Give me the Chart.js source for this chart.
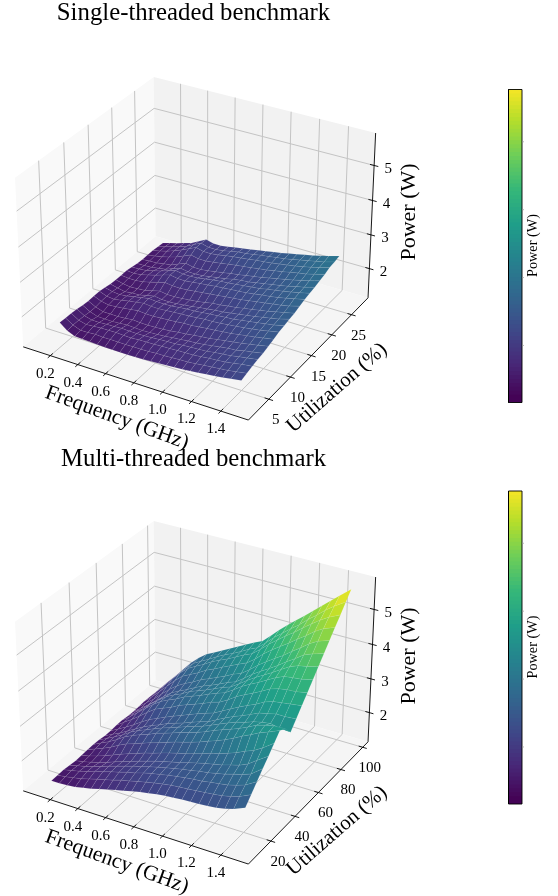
<!DOCTYPE html>
<html>
<head>
<meta charset="utf-8">
<title>Power surfaces</title>
<script src="https://cdn.jsdelivr.net/npm/chart.js@4"></script>
<style>
  html, body { margin: 0; padding: 0; background: #fff; }
  canvas { display: block; }
</style>
</head>
<body>
<canvas id="stage" width="558" height="896"></canvas>
<script>
// --- dados ---
const frequencies = [0.10,0.16,0.22,0.28,0.34,0.40,0.46,0.52,0.58,0.64,0.70,0.76,0.82,0.88,0.94,1.00,1.06,1.12,1.18,1.24,1.30,1.36,1.42,1.50];
const utilDrift = [1.7,1.55,1.4,1.25,1.1,0.95,0.8,0.65,0.5,0.35,0.2,0.05,-0.1,-0.25,-0.4,-0.55,-0.7,-0.85,-1,-1.15,-1.3,-1.45,-1.6,-1.9];
const utilSingle = [3.5,4.7,5.9,7.1,8.3,9.5,10.7,11.9,13.1,14.3,15.5,16.7,17.9,19.1,20.3,21.5,22.7,23.9,25.1,26.3];
const utilMulti = [11,15.5,20,24.5,29,33.5,38,42.5,47,51.5,56,60.5,65,69.5,74,78.5,83,87.5,92,96.5];

const powerSingle = [
  [1.39,1.24,1.17,1.18,1.20,1.21,1.23,1.25,1.27,1.30,1.33,1.36,1.40,1.44,1.48,1.52,1.56,1.61,1.66,1.71,1.76,1.82,1.88,1.98],
  [1.38,1.26,1.20,1.23,1.27,1.28,1.31,1.33,1.35,1.38,1.41,1.44,1.48,1.51,1.55,1.59,1.62,1.67,1.72,1.77,1.82,1.87,1.93,2.03],
  [1.38,1.26,1.23,1.27,1.31,1.34,1.37,1.38,1.40,1.44,1.47,1.50,1.54,1.57,1.61,1.64,1.67,1.72,1.77,1.81,1.86,1.92,1.99,2.08],
  [1.36,1.25,1.22,1.24,1.28,1.31,1.35,1.36,1.38,1.41,1.45,1.49,1.53,1.56,1.61,1.65,1.69,1.73,1.79,1.84,1.89,1.96,2.02,2.12],
  [1.33,1.23,1.18,1.20,1.22,1.26,1.30,1.31,1.33,1.36,1.40,1.44,1.49,1.54,1.59,1.63,1.68,1.74,1.80,1.86,1.90,1.98,2.04,2.15],
  [1.32,1.23,1.18,1.20,1.22,1.26,1.31,1.32,1.34,1.37,1.41,1.45,1.51,1.55,1.61,1.66,1.71,1.77,1.83,1.89,1.95,2.02,2.09,2.20],
  [1.33,1.26,1.24,1.28,1.33,1.38,1.44,1.44,1.46,1.50,1.54,1.58,1.63,1.66,1.71,1.76,1.80,1.85,1.90,1.96,2.02,2.08,2.15,2.25],
  [1.33,1.27,1.27,1.33,1.40,1.46,1.52,1.52,1.54,1.58,1.62,1.66,1.70,1.74,1.79,1.82,1.86,1.91,1.96,2.01,2.07,2.13,2.20,2.31],
  [1.30,1.27,1.27,1.32,1.39,1.45,1.52,1.52,1.54,1.57,1.62,1.67,1.70,1.75,1.80,1.84,1.89,1.93,1.99,2.05,2.11,2.17,2.23,2.35],
  [1.27,1.24,1.22,1.27,1.30,1.38,1.45,1.44,1.46,1.50,1.55,1.60,1.66,1.71,1.77,1.81,1.87,1.93,1.99,2.05,2.12,2.19,2.26,2.39],
  [1.26,1.23,1.22,1.26,1.30,1.38,1.46,1.45,1.47,1.51,1.56,1.61,1.67,1.74,1.78,1.84,1.89,1.96,2.02,2.09,2.15,2.23,2.30,2.42],
  [1.26,1.26,1.28,1.33,1.41,1.49,1.58,1.57,1.59,1.63,1.68,1.73,1.78,1.83,1.88,1.93,1.98,2.04,2.10,2.16,2.22,2.28,2.35,2.48],
  [1.27,1.27,1.32,1.40,1.48,1.58,1.67,1.65,1.67,1.72,1.77,1.82,1.87,1.91,1.96,2.00,2.04,2.10,2.16,2.21,2.27,2.34,2.42,2.53],
  [1.24,1.27,1.31,1.39,1.47,1.57,1.67,1.65,1.67,1.71,1.77,1.83,1.88,1.92,1.97,2.02,2.07,2.12,2.19,2.25,2.31,2.38,2.45,2.57],
  [1.21,1.24,1.27,1.33,1.39,1.50,1.60,1.58,1.60,1.64,1.70,1.76,1.82,1.89,1.95,1.99,2.06,2.12,2.19,2.25,2.32,2.40,2.47,2.60],
  [1.20,1.24,1.27,1.33,1.38,1.50,1.61,1.58,1.60,1.65,1.71,1.77,1.84,1.89,1.96,2.02,2.08,2.15,2.22,2.29,2.36,2.44,2.52,2.65],
  [1.20,1.26,1.32,1.40,1.49,1.61,1.73,1.70,1.72,1.77,1.83,1.89,1.95,2.00,2.05,2.11,2.16,2.23,2.29,2.36,2.43,2.49,2.57,2.70],
  [1.21,1.28,1.36,1.46,1.57,1.70,1.82,1.79,1.81,1.86,1.92,1.98,2.03,2.08,2.14,2.18,2.23,2.29,2.35,2.41,2.48,2.55,2.63,2.76],
  [1.19,1.28,1.36,1.45,1.55,1.69,1.82,1.78,1.80,1.85,1.92,1.99,2.03,2.09,2.15,2.20,2.26,2.31,2.38,2.45,2.52,2.59,2.66,2.79],
  [1.17,1.26,1.34,1.43,1.52,1.66,1.80,1.76,1.78,1.84,1.90,1.96,2.02,2.08,2.14,2.20,2.26,2.33,2.40,2.47,2.54,2.62,2.70,2.83]
];

const powerMulti = [
  [1.18,1.19,1.21,1.24,1.30,1.36,1.43,1.50,1.57,1.63,1.70,1.76,1.81,1.86,1.90,1.93,1.96,1.98,2.00,2.03,2.06,2.12,2.20,2.35],
  [1.19,1.23,1.28,1.33,1.41,1.48,1.55,1.62,1.70,1.76,1.83,1.89,1.95,2.00,2.05,2.08,2.11,2.14,2.17,2.21,2.25,2.31,2.39,2.56],
  [1.20,1.26,1.32,1.39,1.48,1.55,1.63,1.70,1.78,1.84,1.92,1.99,2.04,2.10,2.15,2.19,2.23,2.26,2.31,2.35,2.40,2.47,2.56,2.77],
  [1.18,1.25,1.31,1.39,1.47,1.56,1.64,1.72,1.80,1.87,1.95,2.02,2.08,2.14,2.20,2.25,2.31,2.35,2.41,2.47,2.55,2.62,2.72,2.98],
  [1.17,1.22,1.28,1.35,1.44,1.54,1.63,1.71,1.80,1.88,1.96,2.03,2.10,2.16,2.24,2.31,2.38,2.44,2.50,2.58,2.65,2.77,2.95,3.18],
  [1.18,1.24,1.32,1.41,1.51,1.61,1.71,1.79,1.89,1.96,2.05,2.13,2.20,2.27,2.35,2.43,2.52,2.59,2.68,2.78,2.90,3.00,3.15,3.39],
  [1.20,1.30,1.40,1.51,1.65,1.77,1.85,1.95,2.04,2.12,2.21,2.30,2.37,2.45,2.54,2.64,2.73,2.84,2.96,3.10,3.22,3.35,3.45,3.60],
  [1.21,1.33,1.45,1.59,1.75,1.87,1.97,2.06,2.17,2.25,2.34,2.43,2.51,2.59,2.69,2.80,2.90,2.99,3.09,3.21,3.34,3.42,3.48,3.50],
  [1.20,1.32,1.45,1.58,1.74,1.87,1.97,2.08,2.18,2.27,2.36,2.45,2.54,2.62,2.73,2.84,2.95,3.05,3.12,3.22,3.28,3.32,3.27,3.26],
  [1.18,1.30,1.42,1.56,1.70,1.84,1.95,2.05,2.17,2.25,2.34,2.44,2.53,2.61,2.74,2.87,2.99,3.09,3.20,3.32,3.38,3.45,3.45,3.49],
  [1.18,1.31,1.45,1.60,1.76,1.91,2.02,2.13,2.24,2.34,2.44,2.54,2.63,2.72,2.85,2.99,3.12,3.24,3.35,3.49,3.58,3.62,3.66,3.72],
  [1.20,1.37,1.53,1.71,1.90,2.07,2.18,2.28,2.41,2.51,2.60,2.70,2.81,2.89,3.03,3.20,3.33,3.45,3.58,3.72,3.80,3.85,3.87,3.94],
  [1.21,1.39,1.59,1.79,1.99,2.16,2.28,2.39,2.52,2.62,2.72,2.83,2.93,3.02,3.18,3.35,3.49,3.62,3.76,3.90,4.01,4.05,4.08,4.17],
  [1.19,1.39,1.57,1.79,1.98,2.16,2.29,2.40,2.54,2.64,2.74,2.85,2.96,3.05,3.21,3.39,3.55,3.69,3.84,4.00,4.15,4.25,4.30,4.40],
  [1.18,1.37,1.55,1.75,1.95,2.14,2.27,2.39,2.52,2.64,2.74,2.85,2.97,3.06,3.24,3.43,3.59,3.74,3.90,4.08,4.24,4.42,4.52,4.63],
  [1.19,1.39,1.58,1.81,2.02,2.21,2.35,2.47,2.61,2.72,2.83,2.94,3.07,3.17,3.35,3.55,3.73,3.89,4.05,4.24,4.41,4.60,4.74,4.86],
  [1.21,1.43,1.66,1.91,2.15,2.36,2.48,2.61,2.76,2.87,2.99,3.11,3.23,3.34,3.52,3.74,3.93,4.10,4.27,4.45,4.62,4.81,4.96,5.09],
  [1.21,1.46,1.72,1.99,2.24,2.45,2.59,2.72,2.87,2.99,3.10,3.23,3.36,3.47,3.67,3.89,4.08,4.27,4.44,4.64,4.82,5.00,5.15,5.31],
  [1.20,1.46,1.71,1.98,2.24,2.47,2.61,2.74,2.89,3.02,3.13,3.26,3.40,3.51,3.72,3.95,4.15,4.35,4.53,4.75,4.94,5.15,5.33,5.54],
  [1.20,1.47,1.73,2.00,2.27,2.50,2.68,2.81,2.94,3.07,3.20,3.33,3.46,3.58,3.80,4.04,4.25,4.46,4.66,4.87,5.08,5.29,5.50,5.77]
];

const freqTicks = [0.2,0.4,0.6,0.8,1.0,1.2,1.4];
const utilTicksSingle = [5,10,15,20,25];
const utilTicksMulti = [20,40,60,80,100];
const powerTicks = [2,3,4,5];
const freqLim = [0.0, 1.585];
const utilLimSingle = [0.43, 29.3];
const utilLimMulti = [2, 105];
const powerLim = [1.12, 5.91];
const colorLim = [1.16, 5.77];
const surfaceColorLim = [0.9, 5.77];

// viridis em 10 paradas
const viridis = [[68,1,84],[72,40,120],[62,74,137],[49,104,142],[38,130,142],[31,158,137],[53,183,121],[110,206,88],[181,222,43],[253,231,37]];

// --- projeção 3D (mesma vista do matplotlib: elev 30, azim -60) ---
const HALF_XY = 0.5953, HALF_Z = 0.4465, DIST = 10;
const SCALE_X = 216.7, SCALE_Y = 215.7, CENTER_X = 198.8;

function project(panel, f, u, p) {
  const a = (2 * (f - freqLim[0]) / (freqLim[1] - freqLim[0]) - 1) * HALF_XY;
  const b = (2 * (u - panel.utilLim[0]) / (panel.utilLim[1] - panel.utilLim[0]) - 1) * HALF_XY;
  const c = (2 * (p - powerLim[0]) / (powerLim[1] - powerLim[0]) - 1) * HALF_Z;
  const xc = 0.866 * a + 0.5 * b;
  const yc = -0.25 * a + 0.433 * b + 0.866 * c;
  const zc = 0.433 * a - 0.75 * b + 0.5 * c;
  const s = DIST / (DIST - zc);
  return { x: CENTER_X + xc * s * SCALE_X, y: panel.centerY - yc * s * SCALE_Y, depth: zc };
}

function viridisColor(t) {
  const pos = Math.max(0, Math.min(1, t)) * 9;
  const i = Math.min(8, Math.floor(pos));
  const k = pos - i;
  const c = viridis[i].map((v, n) => Math.round(v + (viridis[i + 1][n] - v) * k));
  return `rgb(${c[0]},${c[1]},${c[2]})`;
}

// cada polígono/linha vira um dataset de linha; a ordem aqui é a ordem de pintura
const layers = [];

function addPolygon(points, color, border, width) {
  layers.push({
    data: points.concat([points[0]]).map(p => ({ x: p.x, y: p.y })),
    fill: 'shape',
    backgroundColor: color,
    borderColor: border || color,
    borderWidth: border ? width : 0,
    pointRadius: 0,
    tension: 0
  });
}

function addLine(points, color, width) {
  layers.push({
    data: points.map(p => ({ x: p.x, y: p.y })),
    fill: false,
    borderColor: color,
    borderWidth: width,
    pointRadius: 0,
    tension: 0
  });
}

function addPanel(panel) {
  const [x0, x1] = freqLim, [y0, y1] = panel.utilLim, [z0, z1] = powerLim;
  const P = (f, u, p) => project(panel, f, u, p);

  // paredes do cubo
  addPolygon([P(x0,y0,z0), P(x0,y1,z0), P(x0,y1,z1), P(x0,y0,z1)], '#f9f9f9');
  addPolygon([P(x0,y1,z0), P(x1,y1,z0), P(x1,y1,z1), P(x0,y1,z1)], '#f2f2f2');
  addPolygon([P(x0,y0,z0), P(x1,y0,z0), P(x1,y1,z0), P(x0,y1,z0)], '#f5f5f5');

  // grade
  const grid = '#c4c4c4';
  freqTicks.forEach(f => addLine([P(f,y0,z0), P(f,y1,z0), P(f,y1,z1)], grid, 1));
  panel.utilTicks.forEach(u => addLine([P(x1,u,z0), P(x0,u,z0), P(x0,u,z1)], grid, 1));
  powerTicks.forEach(p => addLine([P(x0,y0,p), P(x0,y1,p), P(x1,y1,p)], grid, 1));

  // eixos e marcas
  addLine([P(x0,y0,z0), P(x1,y0,z0), P(x1,y1,z0), P(x1,y1,z1)], '#000', 0.9);
  const dy = (y1 - y0) * 0.018, dx = (x1 - x0) * 0.018;
  freqTicks.forEach(f => addLine([P(f,y0-dy,z0), P(f,y0+dy,z0)], '#000', 0.9));
  panel.utilTicks.forEach(u => addLine([P(x1+dx,u,z0), P(x1-dx,u,z0)], '#000', 0.9));
  powerTicks.forEach(p => addLine([P(x1-dx,y1,p), P(x1+dx,y1,p)], '#000', 0.9));

  // superfície, do fundo para a frente
  const quads = [];
  panel.power.forEach((row, i) => {
    if (i === panel.power.length - 1) return;
    row.forEach((val, j) => {
      if (j === row.length - 1) return;
      const node = (r, c) => P(frequencies[c], panel.util[r] + utilDrift[c], panel.power[r][c]);
      const pts = [node(i,j), node(i,j+1), node(i+1,j+1), node(i+1,j)];
      const mean = (panel.power[i][j] + panel.power[i][j+1] + panel.power[i+1][j+1] + panel.power[i+1][j]) / 4;
      quads.push({ pts, mean, depth: pts.reduce((s, q) => s + q.depth, 0) / 4 });
    });
  });
  quads.sort((a, b) => a.depth - b.depth);
  quads.forEach(q => {
    const t = (q.mean - surfaceColorLim[0]) / (surfaceColorLim[1] - surfaceColorLim[0]);
    addPolygon(q.pts, viridisColor(t), 'rgba(255,255,255,0.13)', 0.5);
  });

  // barra de cores: cada faixa avança sobre a seguinte para não deixar emendas
  const barSteps = 80;
  const barStep = (colorLim[1] - colorLim[0]) / barSteps;
  const barY = v => panel.barBottom - (v - colorLim[0]) / (colorLim[1] - colorLim[0]) * 313;
  for (let k = barSteps - 1; k >= 0; k--) {
    const v = colorLim[0] + k * barStep;
    const top = Math.min(colorLim[1], v + 2 * barStep);
    addPolygon([{x:508.5,y:barY(v)},{x:522,y:barY(v)},{x:522,y:barY(top)},{x:508.5,y:barY(top)}], viridisColor((k + 0.5) / barSteps));
  }
  const bb = panel.barBottom;
  addLine([{x:508.5,y:bb},{x:522,y:bb},{x:522,y:bb-313},{x:508.5,y:bb-313},{x:508.5,y:bb}], '#000', 0.9);
  powerTicks.forEach(v => addLine([{x:522,y:barY(v)},{x:524,y:barY(v)}], '#999', 0.7));
}

const panels = [
  { title: 'Single-threaded benchmark', util: utilSingle, power: powerSingle, utilLim: utilLimSingle, utilTicks: utilTicksSingle, centerY: 240.3, barBottom: 402.5, titleY: 13, shift: 0, utilLabelY: 388 },
  { title: 'Multi-threaded benchmark', util: utilMulti, power: powerMulti, utilLim: utilLimMulti, utilTicks: utilTicksMulti, centerY: 684.3, barBottom: 804, titleY: 459, shift: 444, utilLabelY: 831 }
];
panels.forEach(addPanel);

// textos no canvas, posicionados pelas escalas
const textPlugin = {
  id: 'axisText',
  afterDraw(chart) {
    const { ctx, scales } = chart;
    const put = (txt, x, y, size, angle) => {
      ctx.save();
      ctx.translate(scales.x.getPixelForValue(x), scales.y.getPixelForValue(y));
      ctx.rotate((angle || 0) * Math.PI / 180);
      ctx.font = `${size}px "Liberation Serif"`;
      ctx.fillStyle = '#000';
      ctx.textAlign = 'center';
      ctx.textBaseline = 'middle';
      ctx.fillText(txt, 0, 0);
      ctx.restore();
    };
    panels.forEach(panel => {
      const x1 = freqLim[1], [y0, y1] = panel.utilLim, z0 = powerLim[0];
      put(panel.title, 193.5, panel.titleY, 24.8);
      freqTicks.forEach(f => {
        const q = project(panel, f, y0, z0);
        put(f.toFixed(1), q.x - 5, q.y + 18, 15);
      });
      panel.utilTicks.forEach(u => {
        const q = project(panel, x1, u, z0);
        put(String(u), q.x + 7, q.y + 21, 15);
      });
      powerTicks.forEach(p => {
        const q = project(panel, x1, y1, p);
        put(String(p), q.x + 14, q.y + 3.5, 15);
      });
      put('Frequency (GHz)', 117, 418 + panel.shift, 21.5, 20);
      put('Utilization (%)', 337, panel.utilLabelY, 20.8, -41);
      put('Power (W)', 409, 212 + panel.shift, 22, -90);
      put('Power (W)', 533, panel.barBottom - 157, 14.3, -90);
    });
  }
};

// a ordem de desenho do Chart.js é do último dataset para o primeiro
new Chart(document.getElementById('stage').getContext('2d'), {
  type: 'line',
  data: { datasets: layers.slice().reverse() },
  options: {
    responsive: false,
    animation: false,
    events: [],
    layout: { padding: 0 },
    plugins: { legend: { display: false }, tooltip: { enabled: false } },
    scales: {
      x: { type: 'linear', min: 0, max: 558, display: false },
      y: { type: 'linear', min: 0, max: 896, reverse: true, display: false }
    }
  },
  plugins: [textPlugin]
});
</script>
</body>
</html>
